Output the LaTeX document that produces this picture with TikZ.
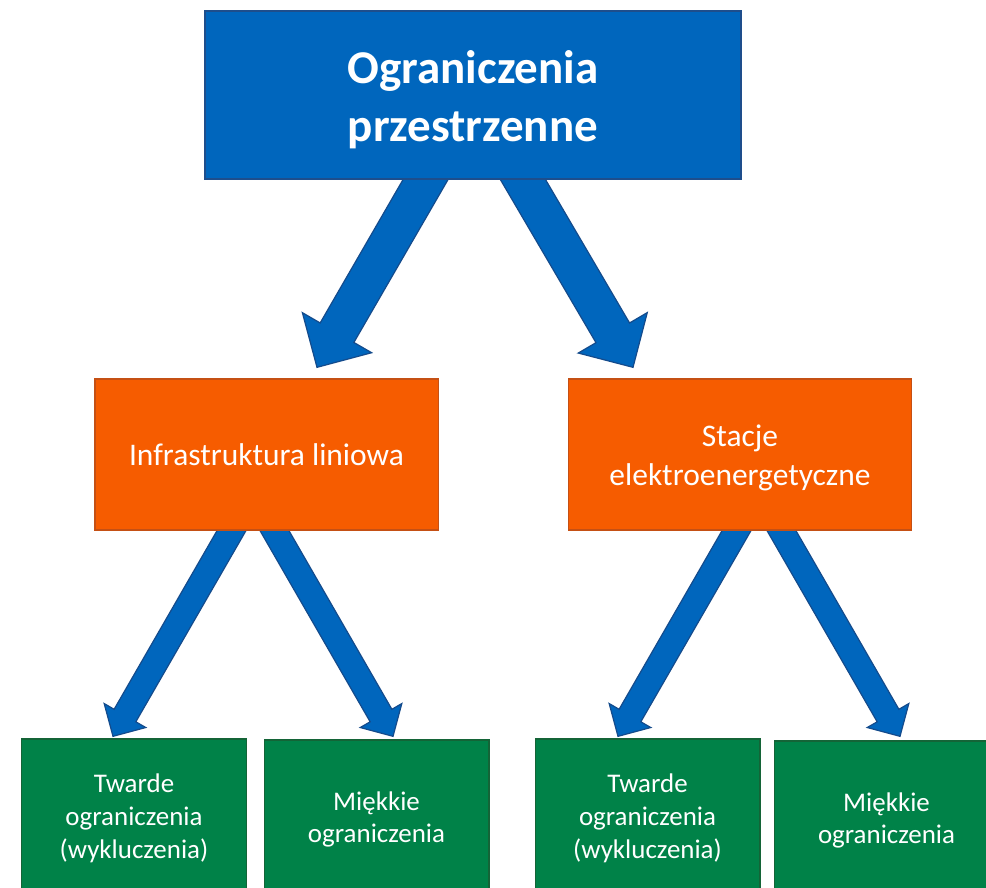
\documentclass[tikz,border=0pt]{standalone}
\usepackage{fontspec}
\setmainfont{Carlito}
\usetikzlibrary{calc}
\pgfdeclarelayer{back}
\pgfdeclarelayer{bg}
\pgfsetlayers{back,bg,main}
\definecolor{topblue}{RGB}{0,102,189}
\definecolor{topedge}{RGB}{30,78,140}
\definecolor{arrblue}{RGB}{0,102,189}
\definecolor{arredge}{RGB}{20,75,140}
\definecolor{orfill}{RGB}{246,92,0}
\definecolor{oredge}{RGB}{197,80,20}
\definecolor{grfill}{RGB}{0,130,72}
\definecolor{gredge}{RGB}{20,100,55}
\tikzset{
  topbox/.style={draw=topedge, line width=1pt, fill=topblue, text=white, align=center,
    minimum width=402pt, minimum height=126pt, inner sep=0pt,
    font=\bfseries\fontsize{35.25}{43}\selectfont},
  midbox/.style={draw=oredge, line width=1pt, fill=orfill, text=white, align=center,
    minimum width=257.5pt, minimum height=113.25pt, inner sep=0pt,
    font=\fontsize{23.6}{28.8}\selectfont},
  lowbox/.style={draw=gredge, line width=1pt, fill=grfill, text=white, align=center,
    minimum width=168.5pt, minimum height=117pt, inner sep=0pt,
    font=\fontsize{20.2}{24.6}\selectfont},
  arrowstyle/.style={draw=arredge, line width=0.9pt, fill=arrblue, line join=miter}
}
% lower the text of a node by #1 while keeping its box
\newcommand\dn[2]{\raisebox{#1}[\height][\depth]{\begin{tabular}{@{}c@{}}#2\end{tabular}}}
% #1 tail coordinate, #2 tip coordinate, #3 half shaft width, #4 half head width, #5 head length
\newcommand\blockarr[5]{%
  \coordinate (ba-a) at ($(#1)!-15pt!(#2)$);
  \coordinate (ba-c) at ($(#2)!#5!(#1)$);
  \draw[arrowstyle] ($(ba-a)!#3!90:(#2)$) -- ($(ba-c)!#3!90:(#2)$) -- ($(ba-c)!#4!90:(#2)$)
    -- (#2) -- ($(ba-c)!#4!-90:(#2)$) -- ($(ba-c)!#3!-90:(#2)$) -- ($(ba-a)!#3!-90:(#2)$) -- cycle;
}
\begin{document}
\begin{tikzpicture}[x=0.75pt, y=-0.75pt]
\useasboundingbox (0,0) rectangle (986,888);
\clip (0,0) rectangle (986,888);
\begin{pgfonlayer}{back}
\fill[white] (0,0) rectangle (986,888);
\end{pgfonlayer}

\node[topbox] (top) at (473,95) {\dn{-4.5pt}{Ograniczenia\\przestrzenne}};
\node[midbox] (inf) at (266.5,454.5) {\dn{-2.2pt}{Infrastruktura liniowa}};
\node[midbox] (sta) at (740,454.5) {\dn{-3pt}{Stacje\\elektroenergetyczne}};
\node[lowbox] (g1) at (134,817) {\dn{-1.5pt}{Twarde\\ograniczenia\\(wykluczenia)}};
\node[lowbox] (g2) at (376.5,818) {\dn{-1.5pt}{Miękkie\\ograniczenia}};
\node[lowbox] (g3) at (647.5,817) {\dn{-1.5pt}{Twarde\\ograniczenia\\(wykluczenia)}};
\node[lowbox] (g4) at (886.5,819) {\dn{-1.5pt}{Miękkie\\ograniczenia}};

\coordinate (t1) at ($(top.south)+(-47.5,0)$);
\coordinate (h1) at ($(inf.north)+(50.5,-11)$);
\coordinate (t2) at ($(top.south)+(50,0)$);
\coordinate (h2) at ($(sta.north)+(-107,-11)$);
\coordinate (t3) at ($(inf.south)+(-35,0)$);
\coordinate (h3) at ($(g1.north)+(-21,-2)$);
\coordinate (t4) at ($(inf.south)+(8,0)$);
\coordinate (h4) at ($(g2.north)+(16.5,-3)$);
\coordinate (t5) at ($(sta.south)+(-3.5,0)$);
\coordinate (h5) at ($(g3.north)+(-29.5,-2)$);
\coordinate (t6) at ($(sta.south)+(41.5,0)$);
\coordinate (h6) at ($(g4.north)+(13.5,-4)$);

\begin{pgfonlayer}{bg}
\blockarr{t1}{h1}{14.6pt}{30pt}{30pt}
\blockarr{t2}{h2}{14.6pt}{30pt}{30pt}
\blockarr{t3}{h3}{9.4pt}{18pt}{18pt}
\blockarr{t4}{h4}{9.4pt}{18pt}{18pt}
\blockarr{t5}{h5}{9.4pt}{18pt}{18pt}
\blockarr{t6}{h6}{9.4pt}{18pt}{18pt}
\end{pgfonlayer}
\end{tikzpicture}
\end{document}
